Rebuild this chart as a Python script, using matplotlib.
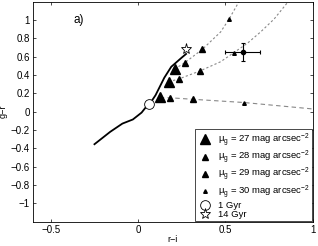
import matplotlib
matplotlib.use("Agg")
import matplotlib.pyplot as plt

plt.rcParams["font.family"] = ["Liberation Sans", "DejaVu Sans"]
plt.rcParams["mathtext.fontset"] = "custom"
plt.rcParams["mathtext.rm"] = "Liberation Sans"
plt.rcParams["mathtext.it"] = "Liberation Sans"
plt.rcParams["font.size"] = 7

# model track (solid)
track_x = [-0.25, -0.16, -0.09, -0.03, 0.02, 0.045, 0.065, 0.10, 0.15, 0.19, 0.22, 0.25, 0.275]
track_y = [-0.355, -0.22, -0.13, -0.085, -0.01, 0.05, 0.08, 0.18, 0.37, 0.49, 0.54, 0.59, 0.63]

# dashed tracks
low_x = [0.124, 0.182, 0.316, 0.607, 1.0]
low_y = [0.155, 0.152, 0.135, 0.100, 0.03]
mid_x = [0.176, 0.233, 0.354, 0.473, 0.549, 0.626, 0.703, 0.779, 0.86]
mid_y = [0.327, 0.357, 0.444, 0.545, 0.645, 0.746, 0.872, 1.01, 1.2]
top_x = [0.21, 0.268, 0.368, 0.473, 0.521, 0.578]
top_y = [0.466, 0.535, 0.68, 0.87, 1.01, 1.2]

# triangles per surface brightness
mu27_x = [0.124, 0.176, 0.21]
mu27_y = [0.155, 0.327, 0.466]
mu28_x = [0.182, 0.233, 0.268]
mu28_y = [0.152, 0.357, 0.535]
mu29_x = [0.316, 0.354, 0.368]
mu29_y = [0.135, 0.444, 0.68]
mu30_x = [0.607, 0.549, 0.521]
mu30_y = [0.100, 0.645, 1.01]

age1_x, age1_y = 0.065, 0.08
age14_x, age14_y = 0.275, 0.68

err_x, err_y = 0.6, 0.65
err_dx, err_dy = 0.1, 0.1

fig = plt.figure(figsize=(3.18, 2.46), dpi=100)
ax = fig.add_axes([0.105, 0.099, 0.878, 0.894])

gray = "#888888"
ax.plot(low_x, low_y, "--", color=gray, lw=0.8, dashes=(4, 3))
ax.plot(mid_x, mid_y, "--", color=gray, lw=0.8, dashes=(2, 2))
ax.plot(top_x, top_y, "--", color=gray, lw=0.8, dashes=(2, 2))
ax.plot(track_x, track_y, "k-", lw=1.3)

h27, = ax.plot(mu27_x, mu27_y, "k^", ms=6.5, ls="none")
h28, = ax.plot(mu28_x, mu28_y, "k^", ms=5, ls="none")
h29, = ax.plot(mu29_x, mu29_y, "k^", ms=3.8, ls="none")
h30, = ax.plot(mu30_x, mu30_y, "k^", ms=2.6, ls="none")
h1, = ax.plot([age1_x], [age1_y], "o", mfc="white", mec="k", mew=0.6, ms=7, ls="none")
h14, = ax.plot([age14_x], [age14_y], "*", mfc="white", mec="k", mew=0.6, ms=8, ls="none")

ax.errorbar([err_x], [err_y], xerr=[err_dx], yerr=[err_dy], fmt="ko", ms=3,
            ecolor="k", elinewidth=0.8, capsize=1.5, capthick=0.8)

ax.text(-0.37, 0.97, "a)", fontsize=8.5)

ax.set_xlim(-0.6, 1.0)
ax.set_ylim(-1.2, 1.2)
ax.set_xticks([-0.5, 0, 0.5, 1])
ax.set_xticklabels(["\u22120.5", "0", "0.5", "1"])
yt = [-1, -0.8, -0.6, -0.4, -0.2, 0, 0.2, 0.4, 0.6, 0.8, 1]
ax.set_yticks(yt)
ax.set_yticklabels([("\u2212" + ("%g" % abs(v))) if v < 0 else ("%g" % v) for v in yt])
ax.tick_params(direction="in", top=True, right=True, length=2.5, width=0.5, pad=2.5)
for s in ax.spines.values():
    s.set_linewidth(0.6)
ax.set_xlabel("r\u2212i", labelpad=0, fontsize=6.5)
ax.set_ylabel("g\u2212r", labelpad=2, fontsize=6.5)

labels = [r"$\mu_g$ = 27 mag arcsec$^{-2}$", r"$\mu_g$ = 28 mag arcsec$^{-2}$",
          r"$\mu_g$ = 29 mag arcsec$^{-2}$", r"$\mu_g$ = 30 mag arcsec$^{-2}$",
          "1 Gyr", "14 Gyr"]
leg = ax.legend([h27, h28, h29, h30, h1, h14], labels, loc="lower right",
                borderaxespad=0.05, fancybox=False, edgecolor="k", framealpha=1,
                labelspacing=0.0, handletextpad=0.6, borderpad=0.25, handlelength=1.6,
                handleheight=0.5, fontsize=6.8)
leg.get_frame().set_linewidth(0.5)

fig.savefig("out.png", dpi=100)
